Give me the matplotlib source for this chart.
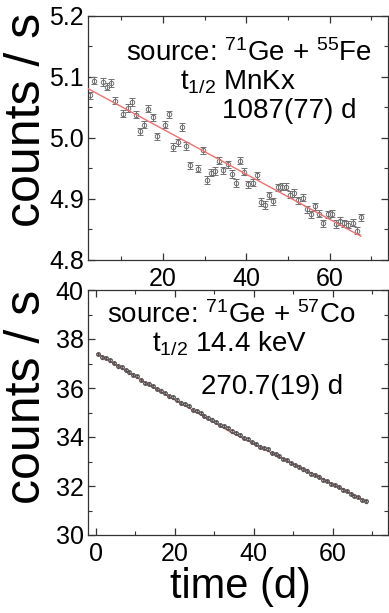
import numpy as np
import matplotlib
matplotlib.use("Agg")
from matplotlib import pyplot as plt
from matplotlib.ticker import MultipleLocator

plt.rcParams['font.family'] = ['Liberation Sans', 'DejaVu Sans']
plt.rcParams['mathtext.fontset'] = 'custom'
plt.rcParams['mathtext.rm'] = 'Liberation Sans'
plt.rcParams['mathtext.it'] = 'Liberation Sans:italic'

# upper panel: 71Ge + 55Fe, MnKx line
t_fe = [2.5, 3.5, 5.5, 6.5, 7.5, 8.5, 10.5, 11.5, 12.5, 13.5, 14.5, 15.5, 16.5, 17.5,
        18.5, 20.5, 21.5, 22.5, 23.5, 24.5, 25.5, 26.5, 28.5, 29.5, 30.5, 31.5, 32.5,
        33.5, 34.5, 35.5, 36.5, 37.5, 38.5, 39.5, 40.5, 41.5, 42.5, 43.5, 44.5, 45.5,
        46.5, 47.5, 48.5, 49.5, 50.5, 51.5, 52.5, 53.5, 54.5, 55.5, 56.5, 57.5, 58.5,
        59.5, 60.5, 61.5, 62.5, 63.5, 64.5, 65.5, 66.5, 67.5]
c_fe = [5.070, 5.094, 5.092, 5.084, 5.090, 5.061, 5.040, 5.049, 5.059, 5.038, 5.011,
        5.022, 5.048, 5.034, 5.003, 5.022, 5.039, 4.985, 4.993, 5.018, 4.987, 4.955,
        4.950, 4.980, 4.931, 4.943, 4.946, 4.963, 4.947, 4.957, 4.941, 4.926, 4.963,
        4.945, 4.924, 4.927, 4.939, 4.895, 4.890, 4.906, 4.896, 4.919, 4.920, 4.920,
        4.907, 4.910, 4.898, 4.902, 4.883, 4.875, 4.888, 4.876, 4.860, 4.875, 4.876,
        4.859, 4.864, 4.860, 4.858, 4.861, 4.848, 4.870]
err_fe = 0.006
fit_t_fe = [2.0, 67.5]
fit_c_fe = [5.081, 4.839]

# lower panel: 71Ge + 57Co, 14.4 keV line
t_co = [0.5, 1.5, 2.5, 3.5, 4.5, 5.5, 6.5, 7.5, 8.5, 9.5, 10.5, 11.5, 12.5, 13.5, 14.5,
        15.5, 16.5, 17.5, 18.5, 19.5, 20.5, 21.5, 22.5, 23.5, 24.5, 25.5, 26.5, 27.5,
        28.5, 29.5, 30.5, 31.5, 32.5, 33.5, 34.5, 35.5, 36.5, 37.5, 38.5, 39.5, 40.5,
        41.5, 42.5, 43.5, 44.5, 45.5, 46.5, 47.5, 48.5, 49.5, 50.5, 51.5, 52.5, 53.5,
        54.5, 55.5, 56.5, 57.5, 58.5, 59.5, 60.5, 61.5, 62.5, 63.5, 64.5, 65.5, 66.5,
        67.5, 68.5]
c_co = [37.39, 37.25, 37.22, 37.13, 37.03, 36.88, 36.84, 36.74, 36.64, 36.55, 36.47,
        36.33, 36.21, 36.18, 36.09, 35.96, 35.89, 35.79, 35.66, 35.62, 35.53, 35.40,
        35.34, 35.26, 35.12, 35.06, 34.98, 34.85, 34.79, 34.71, 34.61, 34.49, 34.44,
        34.36, 34.23, 34.16, 34.09, 33.97, 33.92, 33.80, 33.72, 33.61, 33.56, 33.49,
        33.35, 33.29, 33.22, 33.10, 33.05, 32.94, 32.86, 32.79, 32.68, 32.63, 32.51,
        32.44, 32.38, 32.26, 32.21, 32.09, 32.03, 31.96, 31.85, 31.79, 31.68, 31.60,
        31.55, 31.43, 31.37]
err_co = 0.05
fit_t_co = [0.5, 17.0, 34.0, 51.0, 68.5]
fit_c_co = [37.39, 35.79, 34.21, 32.82, 31.37]

fig = plt.figure(figsize=(3.89, 6.13), dpi=100)
W, H = 389.0, 613.0

def px_axes(l, t, r, b):
    return fig.add_axes([l / W, 1 - b / H, (r - l) / W, (b - t) / H])

ax1 = px_axes(88, 16, 388, 260)
ax2 = px_axes(88, 290, 388, 535)

for ax in (ax1, ax2):
    ax.tick_params(which='both', direction='in', top=True, right=True,
                   labelsize=18, colors='#333333', labelcolor='black')
    ax.tick_params(which='major', length=5, width=0.9)
    ax.tick_params(which='minor', length=3, width=0.8)
    ax.tick_params(axis='x', pad=5)
    ax.tick_params(axis='y', pad=3)
    ax.xaxis.set_major_locator(MultipleLocator(20))
    ax.xaxis.set_minor_locator(MultipleLocator(10))
    for s in ax.spines.values():
        s.set_color('#333333')
        s.set_linewidth(0.9)

ax1.errorbar(t_fe, c_fe, yerr=err_fe, fmt='o', ms=3.2, mfc='none', mec='#707070',
             mew=0.7, ecolor='#707070', elinewidth=0.7, capsize=2, capthick=0.7, zorder=2)
ax1.plot(fit_t_fe, fit_c_fe, color='#f07070', lw=1.0, zorder=3)
ax1.set_xlim(2, 74)
ax1.set_ylim(4.8, 5.2)
ax1.yaxis.set_major_locator(MultipleLocator(0.1))
ax1.yaxis.set_minor_locator(MultipleLocator(0.05))
ax1.yaxis.set_major_formatter(matplotlib.ticker.FormatStrFormatter('%.1f'))

ax2.plot(fit_t_co, fit_c_co, color='#e05050', lw=0.8, zorder=1)
ax2.errorbar(t_co, c_co, yerr=err_co, fmt='o', ms=2.6, mfc='none', mec='#505050',
             mew=0.9, ecolor='#505050', elinewidth=0.6, capsize=1, zorder=2)
ax2.set_xlim(-2, 74)
ax2.set_ylim(30, 40)
ax2.yaxis.set_major_locator(MultipleLocator(2))
ax2.yaxis.set_minor_locator(MultipleLocator(1))

def ftext(x, y, s, size, **kw):
    fig.text(x / W, 1 - y / H, s, fontsize=size, **kw)

ftext(249, 61, r'source: $^{71}$Ge + $^{55}$Fe', 20, ha='center', va='baseline')
ftext(238, 90, r't$_{1/2}$ MnKx', 20, ha='center', va='baseline')
ftext(289, 118, '1087(77) d', 20, ha='center', va='baseline')

ftext(231, 323, r'source: $^{71}$Ge + $^{57}$Co', 20, ha='center', va='baseline')
ftext(229, 351, r't$_{1/2}$ 14.4 keV', 20, ha='center', va='baseline')
ftext(272, 394, '270.7(19) d', 20, ha='center', va='baseline')

ftext(27, 120, 'counts / s', 36, rotation=90, ha='center', va='center')
ftext(27, 397, 'counts / s', 36, rotation=90, ha='center', va='center')
ftext(240, 598, 'time (d)', 30, ha='center', va='baseline')

fig.savefig('out.png', dpi=100)
